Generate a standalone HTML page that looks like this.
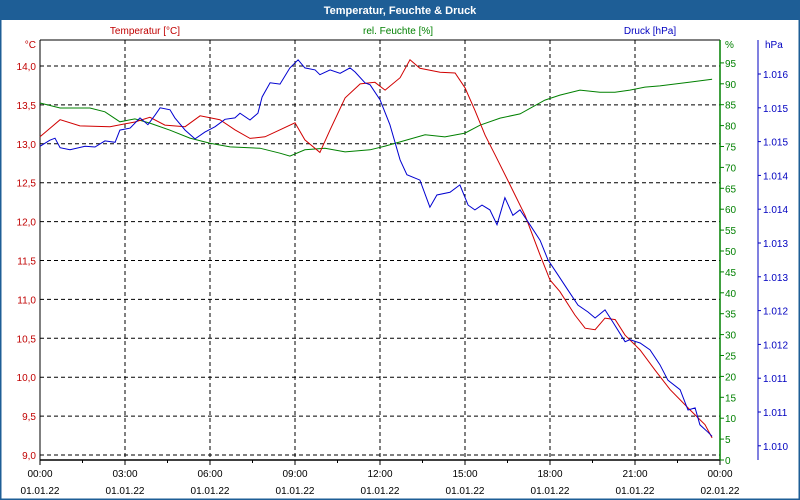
<!DOCTYPE html>
<html><head><meta charset="utf-8"><style>
body{margin:0;background:#fff;}
#wrap{position:relative;width:800px;height:500px;overflow:hidden;font-family:"Liberation Sans",sans-serif;}
</style></head><body>
<div id="wrap">
<svg id="chart" width="800" height="500" xmlns="http://www.w3.org/2000/svg"></svg>
</div>
<script>
const tempT=[0,.71,1.41,2.47,3.35,3.88,4.41,5.12,5.65,6.35,6.88,7.41,7.94,8.47,9.0,9.35,9.88,10.24,10.77,11.3,11.82,12.18,12.71,13.06,13.41,14.12,14.65,15.0,15.35,15.71,16.06,16.59,17.12,17.65,18.0,18.35,18.88,19.24,19.59,19.94,20.3,20.65,21.18,21.71,22.24,22.94,23.47,23.72];
const tempV=[13.09,13.31,13.23,13.22,13.28,13.34,13.24,13.22,13.36,13.31,13.18,13.07,13.09,13.18,13.27,13.05,12.89,13.18,13.59,13.77,13.79,13.69,13.85,14.08,13.97,13.92,13.91,13.72,13.43,13.11,12.86,12.47,12.08,11.57,11.25,11.10,10.80,10.63,10.61,10.76,10.74,10.54,10.35,10.09,9.84,9.58,9.39,9.22];
const humT=[0,.71,1.76,2.29,2.82,3.35,3.88,4.59,5.29,6.0,6.71,7.76,8.47,8.82,9.35,10.06,10.77,11.65,12.18,12.71,13.59,14.29,15.0,15.53,16.24,16.94,17.82,18.35,19.06,19.76,20.29,20.82,21.35,21.88,22.94,23.72];
const humV=[85.4,84.2,84.2,83.3,80.9,81.6,80.6,78.9,77.0,75.8,74.9,74.6,73.4,72.7,74.2,74.6,73.7,74.2,75.1,76.1,77.8,77.3,78.2,80.1,81.8,82.8,86.1,87.3,88.5,88.0,88.0,88.5,89.2,89.5,90.4,91.1];
const presT=[0,.35,.53,.71,1.06,1.59,1.94,2.29,2.65,2.82,3.18,3.53,3.81,4.06,4.24,4.59,4.76,5.12,5.47,5.82,6.18,6.53,6.88,7.06,7.41,7.69,7.84,8.12,8.47,8.82,9.11,9.35,9.71,9.88,10.24,10.59,10.94,11.12,11.47,11.65,12.0,12.35,12.71,12.95,13.41,13.76,14.01,14.47,14.82,15.11,15.35,15.6,15.88,16.13,16.41,16.69,16.94,17.29,17.65,17.93,18.28,18.64,18.99,19.34,19.59,19.94,20.22,20.65,20.82,21.18,21.53,21.88,22.16,22.59,22.87,23.12,23.29,23.58,23.72];
const presV=[1014.93,1015.02,1015.05,1014.91,1014.88,1014.93,1014.92,1015.01,1014.99,1015.17,1015.20,1015.35,1015.25,1015.39,1015.50,1015.47,1015.35,1015.17,1015.04,1015.14,1015.22,1015.33,1015.35,1015.42,1015.32,1015.42,1015.66,1015.87,1015.85,1016.09,1016.21,1016.09,1016.06,1015.99,1016.06,1016.01,1016.09,1016.03,1015.87,1015.84,1015.62,1015.25,1014.73,1014.51,1014.43,1014.03,1014.21,1014.25,1014.36,1014.06,1013.99,1014.06,1013.99,1013.77,1014.17,1013.91,1013.99,1013.77,1013.54,1013.25,1013.03,1012.80,1012.58,1012.48,1012.39,1012.51,1012.33,1012.04,1012.07,1012.02,1011.92,1011.70,1011.47,1011.33,1011.03,1011.06,1010.81,1010.70,1010.64];
const tempTicks=[9.0,9.5,10.0,10.5,11.0,11.5,12.0,12.5,13.0,13.5,14.0];
const humTicks=[0,5,10,15,20,25,30,35,40,45,50,55,60,65,70,75,80,85,90,95];
const presTickVals=[1016.0,1015.5,1015.0,1014.5,1014.0,1013.5,1013.0,1012.5,1012.0,1011.5,1011.0,1010.5];
const presTickLabels=["1.016","1.015","1.015","1.014","1.014","1.013","1.013","1.012","1.012","1.011","1.011","1.010"];
const timeHours=[0,3,6,9,12,15,18,21,24];
const timeLabels=["00:00","03:00","06:00","09:00","12:00","15:00","18:00","21:00","00:00"];
const dateLabels=["01.01.22","01.01.22","01.01.22","01.01.22","01.01.22","01.01.22","01.01.22","01.01.22","02.01.22"];

const L=40,R=720,T=40,B=460;
const xS=h=>L+(R-L)*h/24;
const yT=v=>455-(v-9)*77.8;
const yH=v=>460-v*4.18;
const yP=v=>74+(1016-v)*67.6;
const svg=document.getElementById('chart');
const NS='http://www.w3.org/2000/svg';
function mk(tag,attrs,name,text){const e=document.createElementNS(NS,tag);for(const k in attrs)e.setAttribute(k,attrs[k]);


if(text!==undefined)e.textContent=text;svg.appendChild(e);return e;}
mk('rect',{x:0,y:0,width:800,height:500,fill:'#fff',stroke:'#1e5e96','stroke-width':3},'frame');
mk('rect',{x:0,y:0,width:800,height:20,fill:'#1e5e96'},'title-bar');
mk('text',{x:400,y:14,'text-anchor':'middle','font-size':11,'font-weight':'bold',fill:'#fff'},'chart-title','Temperatur, Feuchte & Druck');
mk('text',{x:145,y:34,'text-anchor':'middle','font-size':10,fill:'#c00000'},'temp-series-title','Temperatur [°C]');
mk('text',{x:398,y:34,'text-anchor':'middle','font-size':10,fill:'#008000'},'humidity-series-title','rel. Feuchte [%]');
mk('text',{x:650,y:34,'text-anchor':'middle','font-size':10,fill:'#0000c0'},'pressure-series-title','Druck [hPa]');
// grid
tempTicks.forEach(v=>{mk('line',{x1:L,x2:R,y1:yT(v),y2:yT(v),stroke:'#000','stroke-dasharray':'4,3','stroke-width':1},'h-gridline');
mk('text',{x:36,y:yT(v)+4,'text-anchor':'end','font-size':10,fill:'#c00000'},'temp-tick-label',v.toFixed(1).replace('.',','));});
mk('text',{x:36,y:48,'text-anchor':'end','font-size':10,fill:'#c00000'},'temp-axis-unit','°C');
timeHours.forEach((h,i)=>{if(h>0&&h<24)mk('line',{x1:xS(h),x2:xS(h),y1:T,y2:B,stroke:'#000','stroke-dasharray':'4,3'},'v-gridline');
mk('line',{x1:xS(h),x2:xS(h),y1:B,y2:B+5,stroke:'#000'},'x-tick');
mk('text',{x:xS(h),y:477,'text-anchor':'middle','font-size':10,fill:'#000'},'time-label',timeLabels[i]);
mk('text',{x:xS(h),y:494,'text-anchor':'middle','font-size':10,fill:'#000'},'date-label',dateLabels[i]);});
for(let h=1.5;h<24;h+=3)mk('line',{x1:xS(h),x2:xS(h),y1:B,y2:B+3,stroke:'#000'},'x-minor-tick');
mk('line',{x1:L,x2:L,y1:T,y2:B,stroke:'#000'},'temp-axis-line');
mk('line',{x1:L,x2:R,y1:B,y2:B,stroke:'#000','stroke-width':1.5},'x-axis-line');
mk('line',{x1:L,x2:R,y1:T,y2:T,stroke:'#000'},'plot-top-line');
mk('line',{x1:R,x2:R,y1:T,y2:B,stroke:'#008000','stroke-width':1.5},'humidity-axis-line');
humTicks.forEach(v=>{mk('line',{x1:R,x2:R+4,y1:yH(v),y2:yH(v),stroke:'#008000'},'humidity-tick');
mk('text',{x:725,y:yH(v)+4,'font-size':10,fill:'#008000'},'humidity-tick-label',String(v));});
mk('text',{x:725,y:48,'font-size':10,fill:'#008000'},'humidity-axis-unit','%');
mk('line',{x1:758,x2:758,y1:T,y2:B,stroke:'#0000c0'},'pressure-axis-line');
presTickVals.forEach((v,i)=>{mk('line',{x1:758,x2:761,y1:yP(v),y2:yP(v),stroke:'#0000c0'},'pressure-tick');
mk('text',{x:763,y:yP(v)+4,'font-size':10,fill:'#0000c0'},'pressure-tick-label',presTickLabels[i]);});
mk('text',{x:765,y:48,'font-size':10,fill:'#0000c0'},'pressure-axis-unit','hPa');
function line(ts,vs,yf,col,name){mk('polyline',{points:ts.map((t,i)=>xS(t).toFixed(1)+','+yf(vs[i]).toFixed(1)).join(' '),fill:'none',stroke:col,'stroke-width':1},name);}
line(humT,humV,yH,'#008000','humidity-line');
line(tempT,tempV,yT,'#d00000','temperature-line');
line(presT,presV,yP,'#0000d0','pressure-line');
</script>
</body></html>
